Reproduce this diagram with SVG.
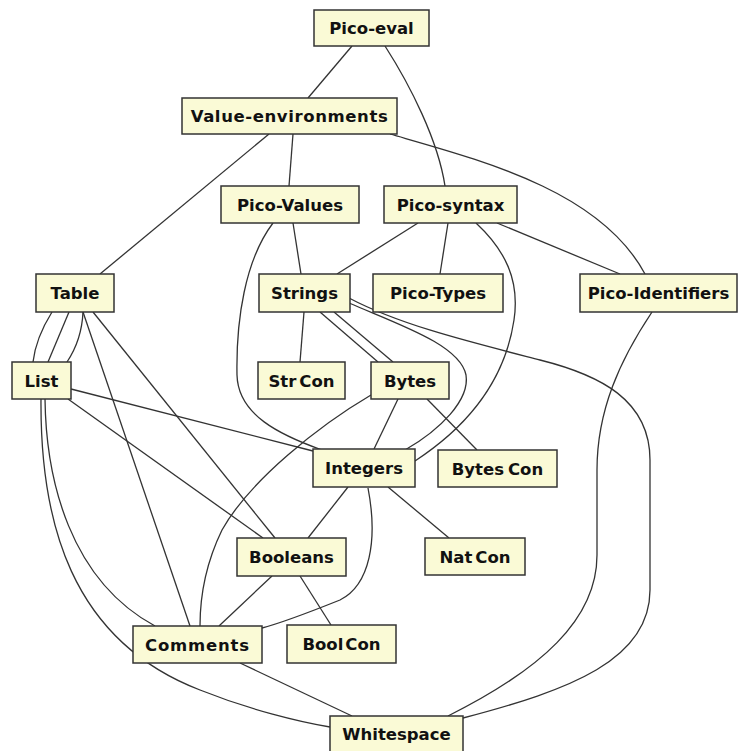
<svg xmlns="http://www.w3.org/2000/svg" width="741" height="751" viewBox="0 0 741 751">
<style>
.e{fill:none;stroke:#333;stroke-width:1.3}
.n rect{fill:#fafad6;stroke:#333;stroke-width:1.5}
.n text{font-family:"DejaVu Sans","Liberation Sans",sans-serif;font-weight:bold;font-size:16.5px;fill:#111;text-anchor:middle}
</style>
<rect width="741" height="751" fill="#fff"/>
<g id="connectors">
<path class="e" d="M352,46 L308,98"/>
<path class="e" d="M385,46 C410,85 438,140 445,186"/>
<path class="e" d="M269,134 L100,274"/>
<path class="e" d="M293,134 L289,186"/>
<path class="e" d="M390,134 C480,160 600,190 645,274"/>
<path class="e" d="M293,223 L301,274"/>
<path class="e" d="M273,223 C245,260 236,320 237,375 C238,415 280,435 322,450"/>
<path class="e" d="M418,223 L337,274"/>
<path class="e" d="M448,223 L440,274"/>
<path class="e" d="M497,223 L620,274"/>
<path class="e" d="M476,223 C505,250 520,280 514,320 C505,380 470,425 415,461"/>
<path class="e" d="M304,312 L300,362"/>
<path class="e" d="M320,312 L378,362"/>
<path class="e" d="M334,312 L393,362"/>
<path class="e" d="M349,303 C400,325 460,345 466,375 C470,400 440,430 405,450"/>
<path class="e" d="M349,298 C400,325 470,342 540,360 C600,375 650,400 650,460 L650,590 C650,660 570,690 463,718"/>
<path class="e" d="M652,312 C620,360 597,410 597,470 L597,555 C597,620 540,670 448,716"/>
<path class="e" d="M52,312 C42,328 35,345 33,362"/>
<path class="e" d="M69,312 L48,362"/>
<path class="e" d="M83,312 C82,335 75,350 67,362"/>
<path class="e" d="M83,312 L190,626"/>
<path class="e" d="M93,312 L275,538"/>
<path class="e" d="M71,389 L313,451"/>
<path class="e" d="M68,399 L263,538"/>
<path class="e" d="M45,399 C46,480 70,580 155,626"/>
<path class="e" d="M41,399 C40,520 70,640 200,690 C250,710 300,722 330,727"/>
<path class="e" d="M398,399 L374,449"/>
<path class="e" d="M427,399 L477,450"/>
<path class="e" d="M371,395 C320,425 250,480 222,530 C205,565 200,600 200,626"/>
<path class="e" d="M348,487 L308,538"/>
<path class="e" d="M388,487 L449,538"/>
<path class="e" d="M368,488 C378,540 370,585 340,600 C310,612 285,622 262,628"/>
<path class="e" d="M272,576 L219,626"/>
<path class="e" d="M300,576 L331,625"/>
<path class="e" d="M240,663 L352,716"/>
</g>
<g id="pico-eval" class="n"><rect x="314" y="10" width="115" height="36"/><text x="371.5" y="34">Pico-eval</text></g>
<g id="value-environments" class="n"><rect x="182" y="98" width="215" height="36"/><text x="289.5" y="122" letter-spacing="0.6">Value-environments</text></g>
<g id="pico-values" class="n"><rect x="221" y="186" width="138" height="37"/><text x="290" y="210.5">Pico-Values</text></g>
<g id="pico-syntax" class="n"><rect x="384" y="186" width="133" height="37"/><text x="450.5" y="210.5">Pico-syntax</text></g>
<g id="table" class="n"><rect x="36" y="274" width="78" height="38"/><text x="75" y="299">Table</text></g>
<g id="strings" class="n"><rect x="259" y="274" width="91" height="38"/><text x="304.5" y="299">Strings</text></g>
<g id="pico-types" class="n"><rect x="373" y="274" width="130" height="38"/><text x="438" y="299">Pico-Types</text></g>
<g id="pico-identifiers" class="n"><rect x="580" y="274" width="157" height="38"/><text x="658.5" y="299">Pico-Identifiers</text></g>
<g id="list" class="n"><rect x="12" y="362" width="59" height="37"/><text x="41.5" y="386.5">List</text></g>
<g id="strcon" class="n"><rect x="258" y="362" width="87" height="37"/><text x="301.5" y="386.5">Str<tspan dx="3">Con</tspan></text></g>
<g id="bytes" class="n"><rect x="371" y="362" width="78" height="37"/><text x="410" y="386.5">Bytes</text></g>
<g id="integers" class="n"><rect x="313" y="449" width="102" height="38"/><text x="364" y="474">Integers</text></g>
<g id="bytescon" class="n"><rect x="438" y="450" width="119" height="37"/><text x="497.5" y="474.5">Bytes<tspan dx="4">Con</tspan></text></g>
<g id="booleans" class="n"><rect x="237" y="538" width="109" height="38"/><text x="291.5" y="563">Booleans</text></g>
<g id="natcon" class="n"><rect x="425" y="538" width="100" height="37"/><text x="475" y="562.5">Nat<tspan dx="3">Con</tspan></text></g>
<g id="comments" class="n"><rect x="133" y="626" width="129" height="37"/><text x="197.5" y="650.5" letter-spacing="0.8">Comments</text></g>
<g id="boolcon" class="n"><rect x="287" y="625" width="109" height="38"/><text x="341.5" y="650">Bool<tspan dx="2">Con</tspan></text></g>
<g id="whitespace" class="n"><rect x="330" y="716" width="133" height="36"/><text x="396.5" y="740">Whitespace</text></g>
</svg>
